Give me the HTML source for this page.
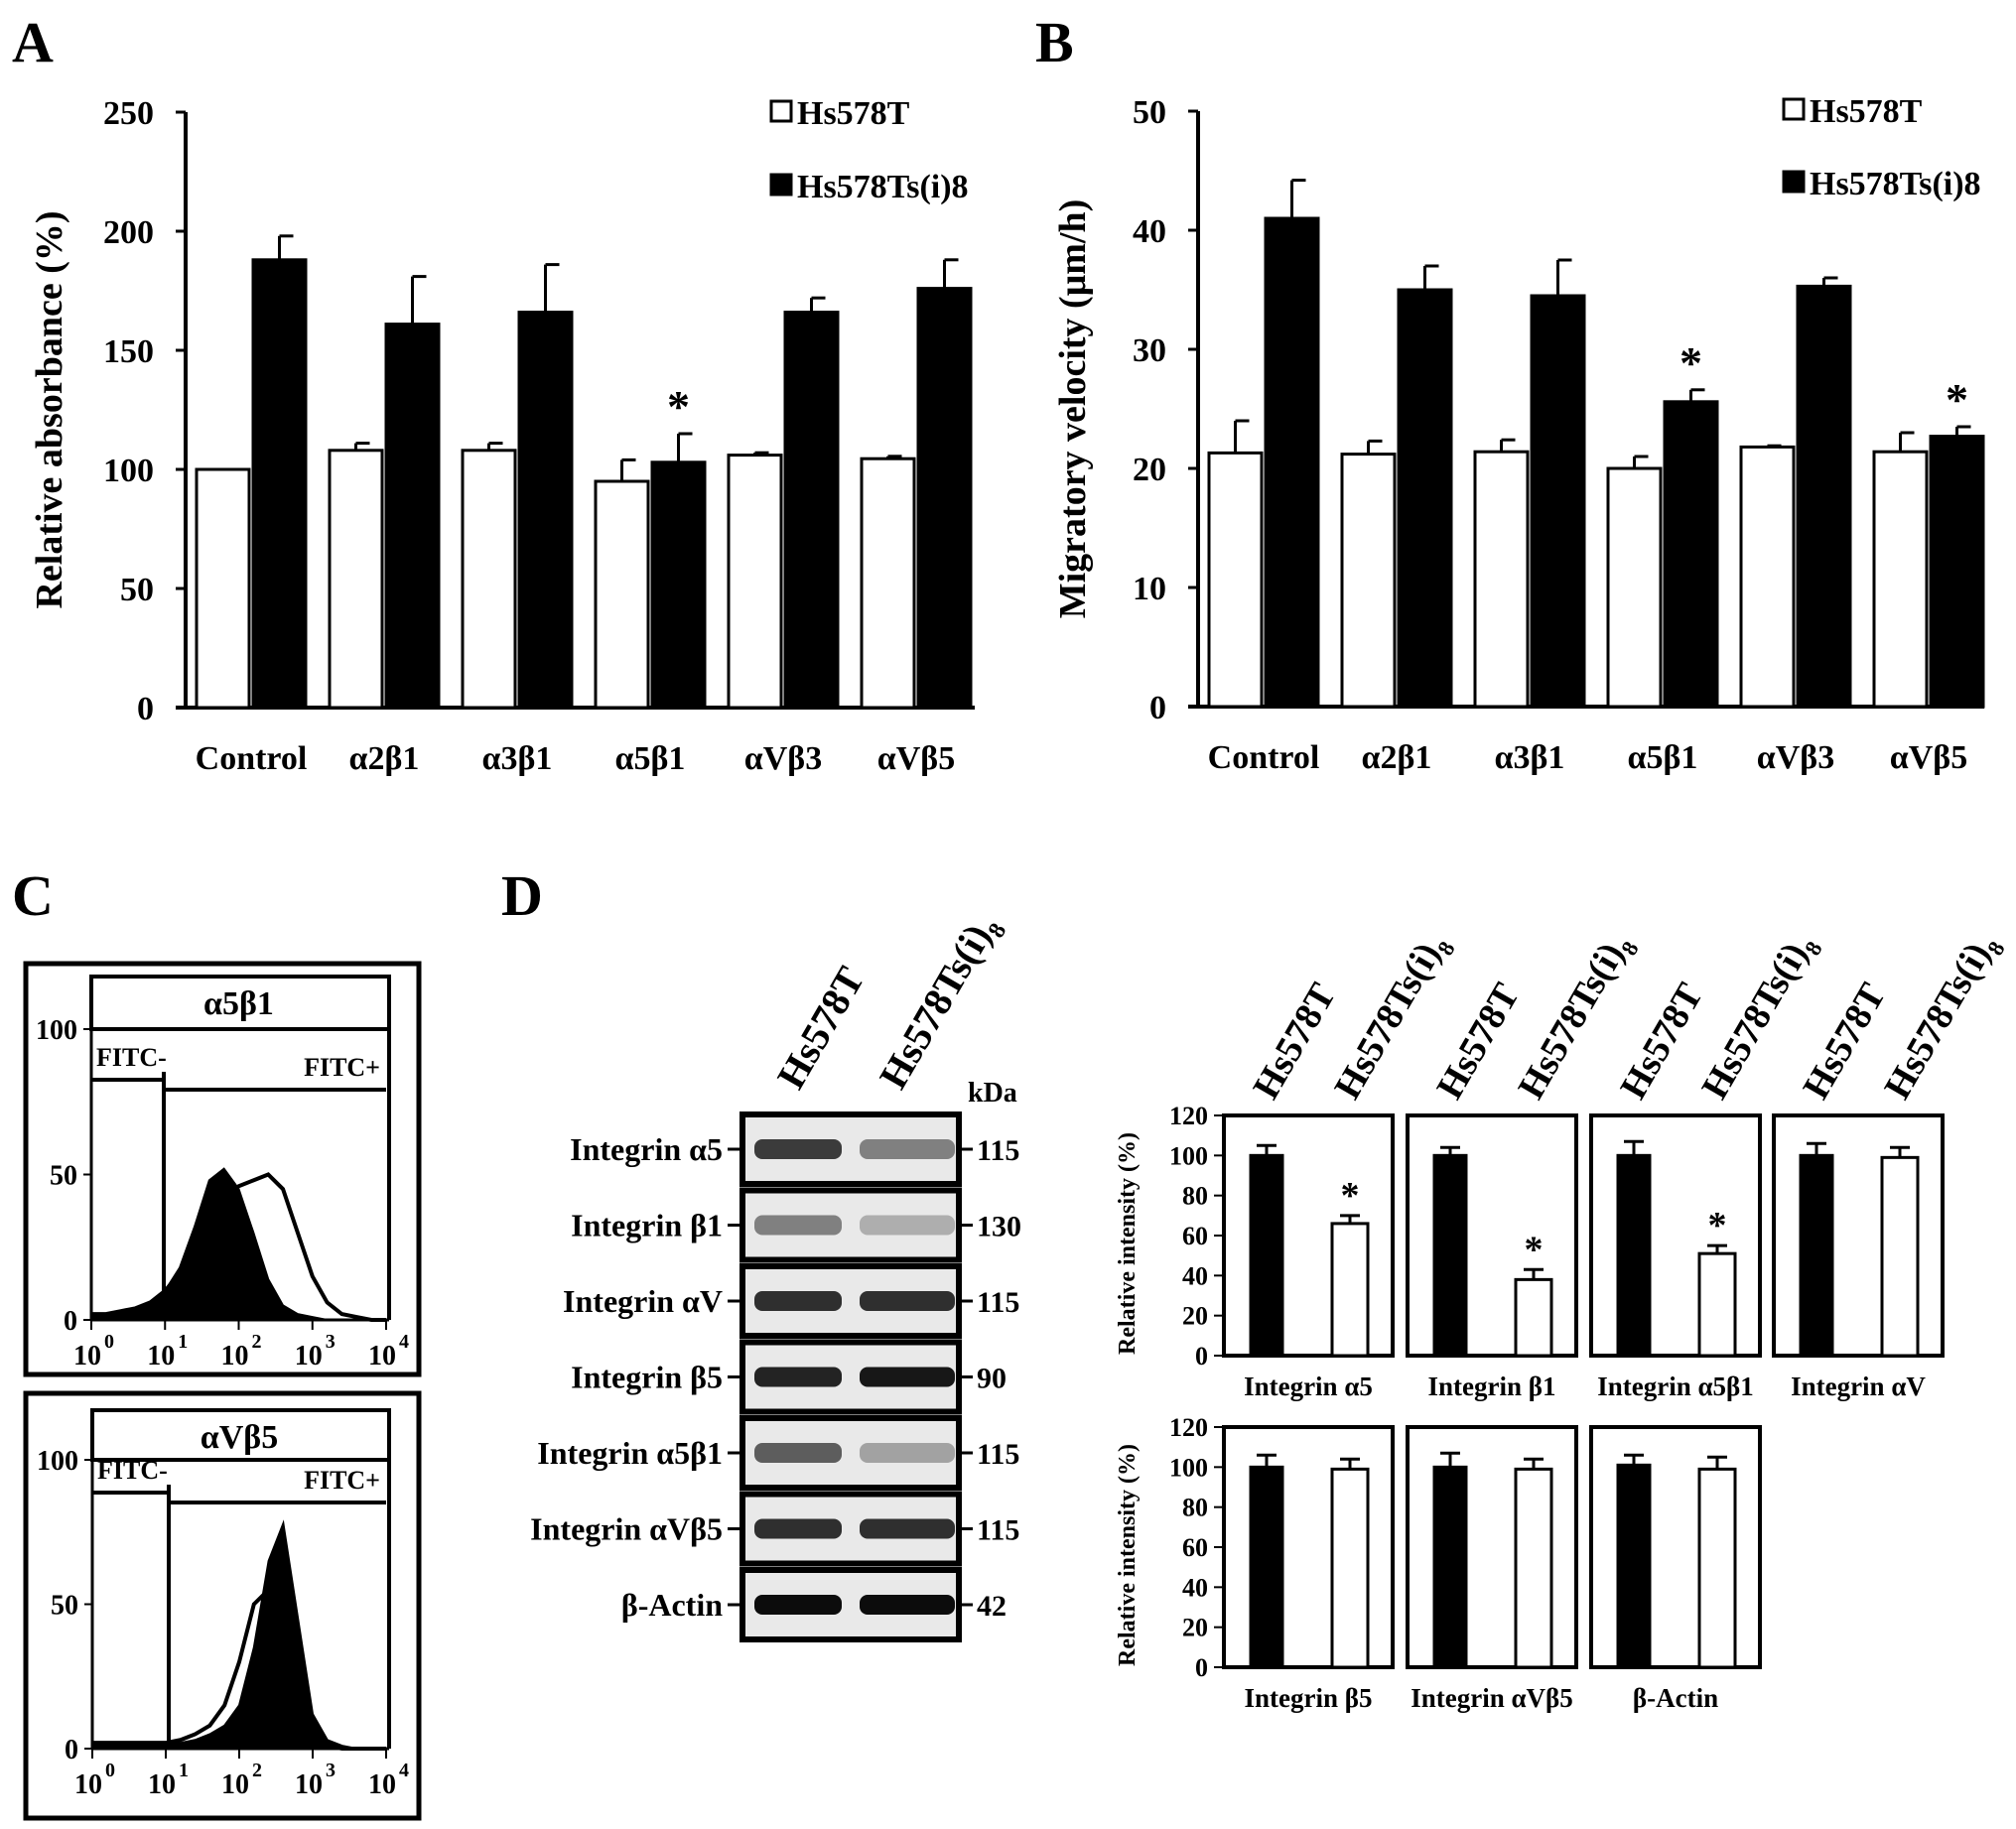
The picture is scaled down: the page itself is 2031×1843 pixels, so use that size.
<!DOCTYPE html>
<html><head><meta charset="utf-8"><style>
html,body{margin:0;padding:0;background:#fff}
svg{display:block}
text{font-family:"Liberation Serif",serif;font-weight:bold;fill:#000}
</style></head><body>
<svg id="s" width="2031" height="1843" viewBox="0 0 2031 1843" xmlns="http://www.w3.org/2000/svg"></svg>
<script>
// ---- Data ----
const catsAB = ["Control","α2β1","α3β1","α5β1","αVβ3","αVβ5"];
const aWhite = [100,108,108,95,106,104.5];
const aWhiteErr = [0,3,3,9,1,1];
const aBlack = [188,161,166,103,166,176];
const aBlackErr = [10,20,20,12,6,12];
const aStar = [false,false,false,true,false,false];
const aTicks = [0,50,100,150,200,250];
const bWhite = [21.3,21.2,21.4,20,21.8,21.4];
const bWhiteErr = [2.7,1.1,1.0,1.0,0.1,1.6];
const bBlack = [41,35,34.5,25.6,35.3,22.7];
const bBlackErr = [3.2,2.0,3.0,1.0,0.7,0.8];
const bStar = [false,false,false,true,false,true];
const bTicks = [0,10,20,30,40,50];
const histLog = [0,0.2,0.4,0.6,0.8,1,1.2,1.4,1.6,1.8,2,2.2,2.4,2.6,2.8,3,3.2,3.4,3.6,3.8,4];
const c1Black = [2,2,3,4,6,10,18,32,48,52,45,30,14,5,2,1,0,0,0,0,0];
const c1White = [2,2,3,4,6,10,16,24,34,42,46,48,50,45,30,15,6,2,1,0,0];
const c2White = [2,2,2,2,2,2,3,5,8,15,30,50,55,40,15,4,1,0,0,0,0];
const c2Black = [2,2,2,2,2,2,2,3,5,8,15,35,65,78,45,12,3,1,0,0,0];
const blotLabels = ["Integrin α5","Integrin β1","Integrin αV","Integrin β5","Integrin α5β1","Integrin αVβ5","β-Actin"];
const blotKDa = ["115","130","115","90","115","115","42"];
const blotInt1 = [0.75,0.45,0.8,0.85,0.6,0.8,0.95];
const blotInt2 = [0.45,0.25,0.8,0.9,0.3,0.8,0.95];
const dLabels = ["Integrin α5","Integrin β1","Integrin α5β1","Integrin αV","Integrin β5","Integrin αVβ5","β-Actin"];
const dBlack = [100,100,100,100,100,100,101];
const dBlackErr = [5,4,7,6,6,7,5];
const dWhite = [66,38,51,99,99,99,99];
const dWhiteErr = [4,5,4,5,5,5,6];
const dStar = [true,true,true,false,false,false,false];
const dTicks = [0,20,40,60,80,100,120];

const S = document.getElementById('s');
const NS = "http://www.w3.org/2000/svg";
function el(tag, attrs, parent){const e=document.createElementNS(NS,tag);for(const k in attrs)e.setAttribute(k,attrs[k]);(parent||S).appendChild(e);return e;}
function txt(x,y,s,size,anchor,parent,extra){const t=el('text',Object.assign({x:x,y:y,'font-size':size,'text-anchor':anchor||'start'},extra||{}),parent);t.textContent=s;return t;}
function header(x,y,size,parent){
  const t=el('text',{x:0,y:0,'font-size':size,transform:`translate(${x},${y}) rotate(-60)`},parent);
  t.appendChild(document.createTextNode('Hs578Ts(i)'));
  const sp=el('tspan',{'font-size':Math.round(size*0.6),dy:Math.round(size*0.25)},t);
  sp.textContent='8';
  return t;
}

// ---- Bar charts A and B ----
function barChart(o){
  const g=el('g',{});
  
  
  const yv=v=>o.y0-(v/o.max)*(o.y0-o.yTop);
  const pl=txt(o.lx,o.ly,o.letter,58,'start',g);
  
  
  el('line',{x1:o.x0,y1:o.yTop,x2:o.x0,y2:o.y0,stroke:'#000','stroke-width':4},g);
  el('line',{x1:o.x0-10,y1:o.y0,x2:o.xEnd,y2:o.y0,stroke:'#000','stroke-width':4},g);
  o.ticks.forEach(t=>{const y=yv(t);
    el('line',{x1:o.x0-10,y1:y,x2:o.x0,y2:y,stroke:'#000','stroke-width':3},g);
    const tl=txt(o.x0-32,y+12,String(t),34,'end',g);
    
    
  });
  const yt=txt(0,0,o.ytitle,38,'middle',g,{transform:`translate(${o.ytx},${(o.yTop+o.y0)/2}) rotate(-90)`});
  
  
  o.cats.forEach((c,i)=>{
    const gx=o.x0+o.first+i*o.pitch;
    const w=o.bw;
    [[o.white,o.wErr,'#fff',gx],[o.black,o.bErr,'#000',gx+w+4]].forEach(([vals,errs,fill,x],k)=>{
      const v=vals[i],e=errs[i];
      if(e>0){el('line',{x1:x+w/2,y1:yv(v),x2:x+w/2,y2:yv(v+e),stroke:'#000','stroke-width':3},g);
        el('line',{x1:x+w/2,y1:yv(v+e),x2:x+w/2+14,y2:yv(v+e),stroke:'#000','stroke-width':3},g);}
      const r=el('rect',{x:x,y:yv(v),width:w,height:o.y0-yv(v),fill:fill,stroke:'#000','stroke-width':3},g);
      
      
      if(k===1&&o.star[i]){const st=txt(x+w/2,yv(v+e)-12,'*',46,'middle',g);
        
        }
    });
    const xl=txt(gx+w+2,o.y0+62,c,34,'middle',g);
    
    
  });
  [['#fff','Hs578T',o.legY1],['#000','Hs578Ts(i)8',o.legY2]].forEach(([f,s,y])=>{
    const lg=el('g',{},g);
    
    
    el('rect',{x:o.legX,y:y-11,width:20,height:20,fill:f,stroke:'#000','stroke-width':3},lg);
    txt(o.legX+26,y+12,s,34,'start',lg);
  });
}
barChart({name:'chart-a',letter:'A',lx:12,ly:62,x0:187,yTop:113,y0:713,xEnd:982,max:250,ticks:aTicks,ytitle:'Relative absorbance (%)',ytx:62,
  cats:catsAB,white:aWhite,wErr:aWhiteErr,black:aBlack,bErr:aBlackErr,star:aStar,first:11,pitch:134,bw:53,legX:777,legY1:113,legY2:187});
barChart({name:'chart-b',letter:'B',lx:1043,ly:62,x0:1207,yTop:112,y0:712,xEnd:1999,max:50,ticks:bTicks,ytitle:'Migratory velocity (μm/h)',ytx:1093,
  cats:catsAB,white:bWhite,wErr:bWhiteErr,black:bBlack,bErr:bBlackErr,star:bStar,first:11,pitch:134,bw:53,legX:1797,legY1:111,legY2:184});

// ---- Panel C histograms ----
const pc=txt(12,922,'C',58,'start');


function histo(o){
  const g=el('g',{});
  
  
  el('rect',{x:o.bx,y:o.by,width:o.bw,height:o.bh,fill:'none',stroke:'#000','stroke-width':5},g);
  const x0=o.px0,x1=o.px1,yz=o.y0,y100=o.y100;
  const yv=v=>yz-(v/100)*(yz-y100);
  const xv=l=>x0+(l/4)*(x1-x0);
  el('rect',{x:x0,y:o.tTop,width:x1-x0+3,height:y100-o.tTop,fill:'none',stroke:'#000','stroke-width':4},g);
  const tt=txt((x0+x1)/2,o.tTop+38,o.title,34,'middle',g);
  
  
  el('line',{x1:x1+3,y1:y100,x2:x1+3,y2:yz,stroke:'#000','stroke-width':4},g);
  el('line',{x1:x0,y1:yz,x2:x1+3,y2:yz,stroke:'#000','stroke-width':3},g);
  el('line',{x1:x0,y1:y100,x2:x0,y2:yz,stroke:'#000','stroke-width':3},g);
  [0,50,100].forEach(t=>{txt(x0-14,yv(t)+10,String(t),28,'end',g);
    el('line',{x1:x0-8,y1:yv(t),x2:x0,y2:yv(t),stroke:'#000','stroke-width':2},g);});
  for(let d=0;d<=4;d++){const x=xv(d);el('line',{x1:x,y1:yz,x2:x,y2:yz+10,stroke:'#000','stroke-width':2},g);
    const t=txt(x-4,yz+45,'10',28,'middle',g);
    txt(x+13,yz+28,String(d),20,'start',g);}
  el('polyline',{points:`${x0},${o.gMinusY} ${o.gx},${o.gMinusY} ${o.gx},${yz}`,fill:'none',stroke:'#000','stroke-width':4},g);
  el('polyline',{points:`${o.gx},${o.gMinusY-8} ${o.gx},${o.gPlusY} ${x1},${o.gPlusY}`,fill:'none',stroke:'#000','stroke-width':4},g);
  txt(x0+5,o.gMinusY-14,'FITC-',26,'start',g);
  txt(x1-6,o.gPlusY-14,'FITC+',26,'end',g);
  const ptsB=o.black.map((v,i)=>`${xv(histLog[i])},${yv(v)}`).join(' ');
  const pb=el('polygon',{points:`${x0},${yz} ${ptsB} ${x1},${yz}`,fill:'#000',stroke:'#000','stroke-width':2},g);
  
  
  const pw=el('polyline',{points:o.white.map((v,i)=>`${xv(histLog[i])},${yv(v)}`).join(' '),fill:'none',stroke:'#000','stroke-width':4},g);
  
  
}
histo({name:'histogram-a5b1',title:'α5β1',bx:26,by:971,bw:396,bh:414,px0:92,px1:389,y0:1330,y100:1037,tTop:984,gx:165,gMinusY:1088,gPlusY:1098,black:c1Black,white:c1White});
histo({name:'histogram-avb5',title:'αVβ5',bx:26,by:1404,bw:396,bh:428,px0:93,px1:389,y0:1762,y100:1471,tTop:1421,gx:170,gMinusY:1504,gPlusY:1514,black:c2Black,white:c2White});

// ---- Panel D blots ----
const pd=txt(505,922,'D',58,'start');


const bl=el('g',{});


txt(0,0,'Hs578T',40,'start',bl,{transform:'translate(805,1100) rotate(-60)'});
header(908,1100,40,bl);
txt(975,1110,'kDa',28,'start',bl);
blotLabels.forEach((s,i)=>{
  const y=1123+i*76.5, h=70;
  const row=el('g',{},bl);
  
  
  el('rect',{x:748,y:y,width:218,height:h,fill:'#e9e9e9',stroke:'#000','stroke-width':6},row);
  el('rect',{x:760,y:y+h/2-10,width:88,height:20,rx:8,fill:`rgba(0,0,0,${blotInt1[i]})`},row);
  el('rect',{x:866,y:y+h/2-10,width:96,height:20,rx:8,fill:`rgba(0,0,0,${blotInt2[i]})`},row);
  el('line',{x1:733,y1:y+h/2,x2:745,y2:y+h/2,stroke:'#000','stroke-width':3},row);
  el('line',{x1:969,y1:y+h/2,x2:980,y2:y+h/2,stroke:'#000','stroke-width':3},row);
  txt(728,y+h/2+11,s,32,'end',row);
  txt(984,y+h/2+11,blotKDa[i],30,'start',row);
});

// ---- Panel D bar charts ----
function dChart(i,bx,top,bottom){
  const g=el('g',{});
  
  
  const w=170;
  const yv=v=>bottom-(v/120)*(bottom-top);
  el('rect',{x:bx,y:top,width:w,height:bottom-top,fill:'none',stroke:'#000','stroke-width':4},g);
  const xb=bx+27,xw=bx+109;
  [[dBlack,dBlackErr,'#000',xb,'black',32],[dWhite,dWhiteErr,'#fff',xw,'white',36]].forEach(([vals,errs,f,x,nm,bwid])=>{
    const v=vals[i],e=errs[i];
    el('line',{x1:x+bwid/2,y1:yv(v),x2:x+bwid/2,y2:yv(v+e),stroke:'#000','stroke-width':3},g);
    el('line',{x1:x+bwid/2-10,y1:yv(v+e),x2:x+bwid/2+10,y2:yv(v+e),stroke:'#000','stroke-width':3},g);
    const r=el('rect',{x:x,y:yv(v),width:bwid,height:bottom-yv(v),fill:f,stroke:'#000','stroke-width':3},g);
    
    
    if(nm==='white'&&dStar[i]){txt(x+bwid/2,yv(v+e)-8,'*',38,'middle',g);}
  });
  const xl=txt(bx+w/2,bottom+40,dLabels[i],27,'middle',g);
  
  
  if(i===0||i===4){
    dTicks.forEach(t=>{el('line',{x1:bx-10,y1:yv(t),x2:bx,y2:yv(t),stroke:'#000','stroke-width':2},g);
      txt(bx-16,yv(t)+9,String(t),26,'end',g);});
    const yt=txt(0,0,'Relative intensity (%)',24,'middle',g,{transform:`translate(${bx-90},${(top+bottom)/2+8}) rotate(-90)`});
    
    
  }
  if(i<4){
    txt(0,0,'Hs578T',38,'start',g,{transform:`translate(${bx+50},${top-14}) rotate(-60)`});
    header(bx+132,top-14,38,g);
  }
}
const dx=[1233,1418,1603,1787];
for(let i=0;i<4;i++) dChart(i,dx[i],1124,1366);
for(let i=4;i<7;i++) dChart(i,dx[i-4],1438,1680);
</script>
</body></html>
